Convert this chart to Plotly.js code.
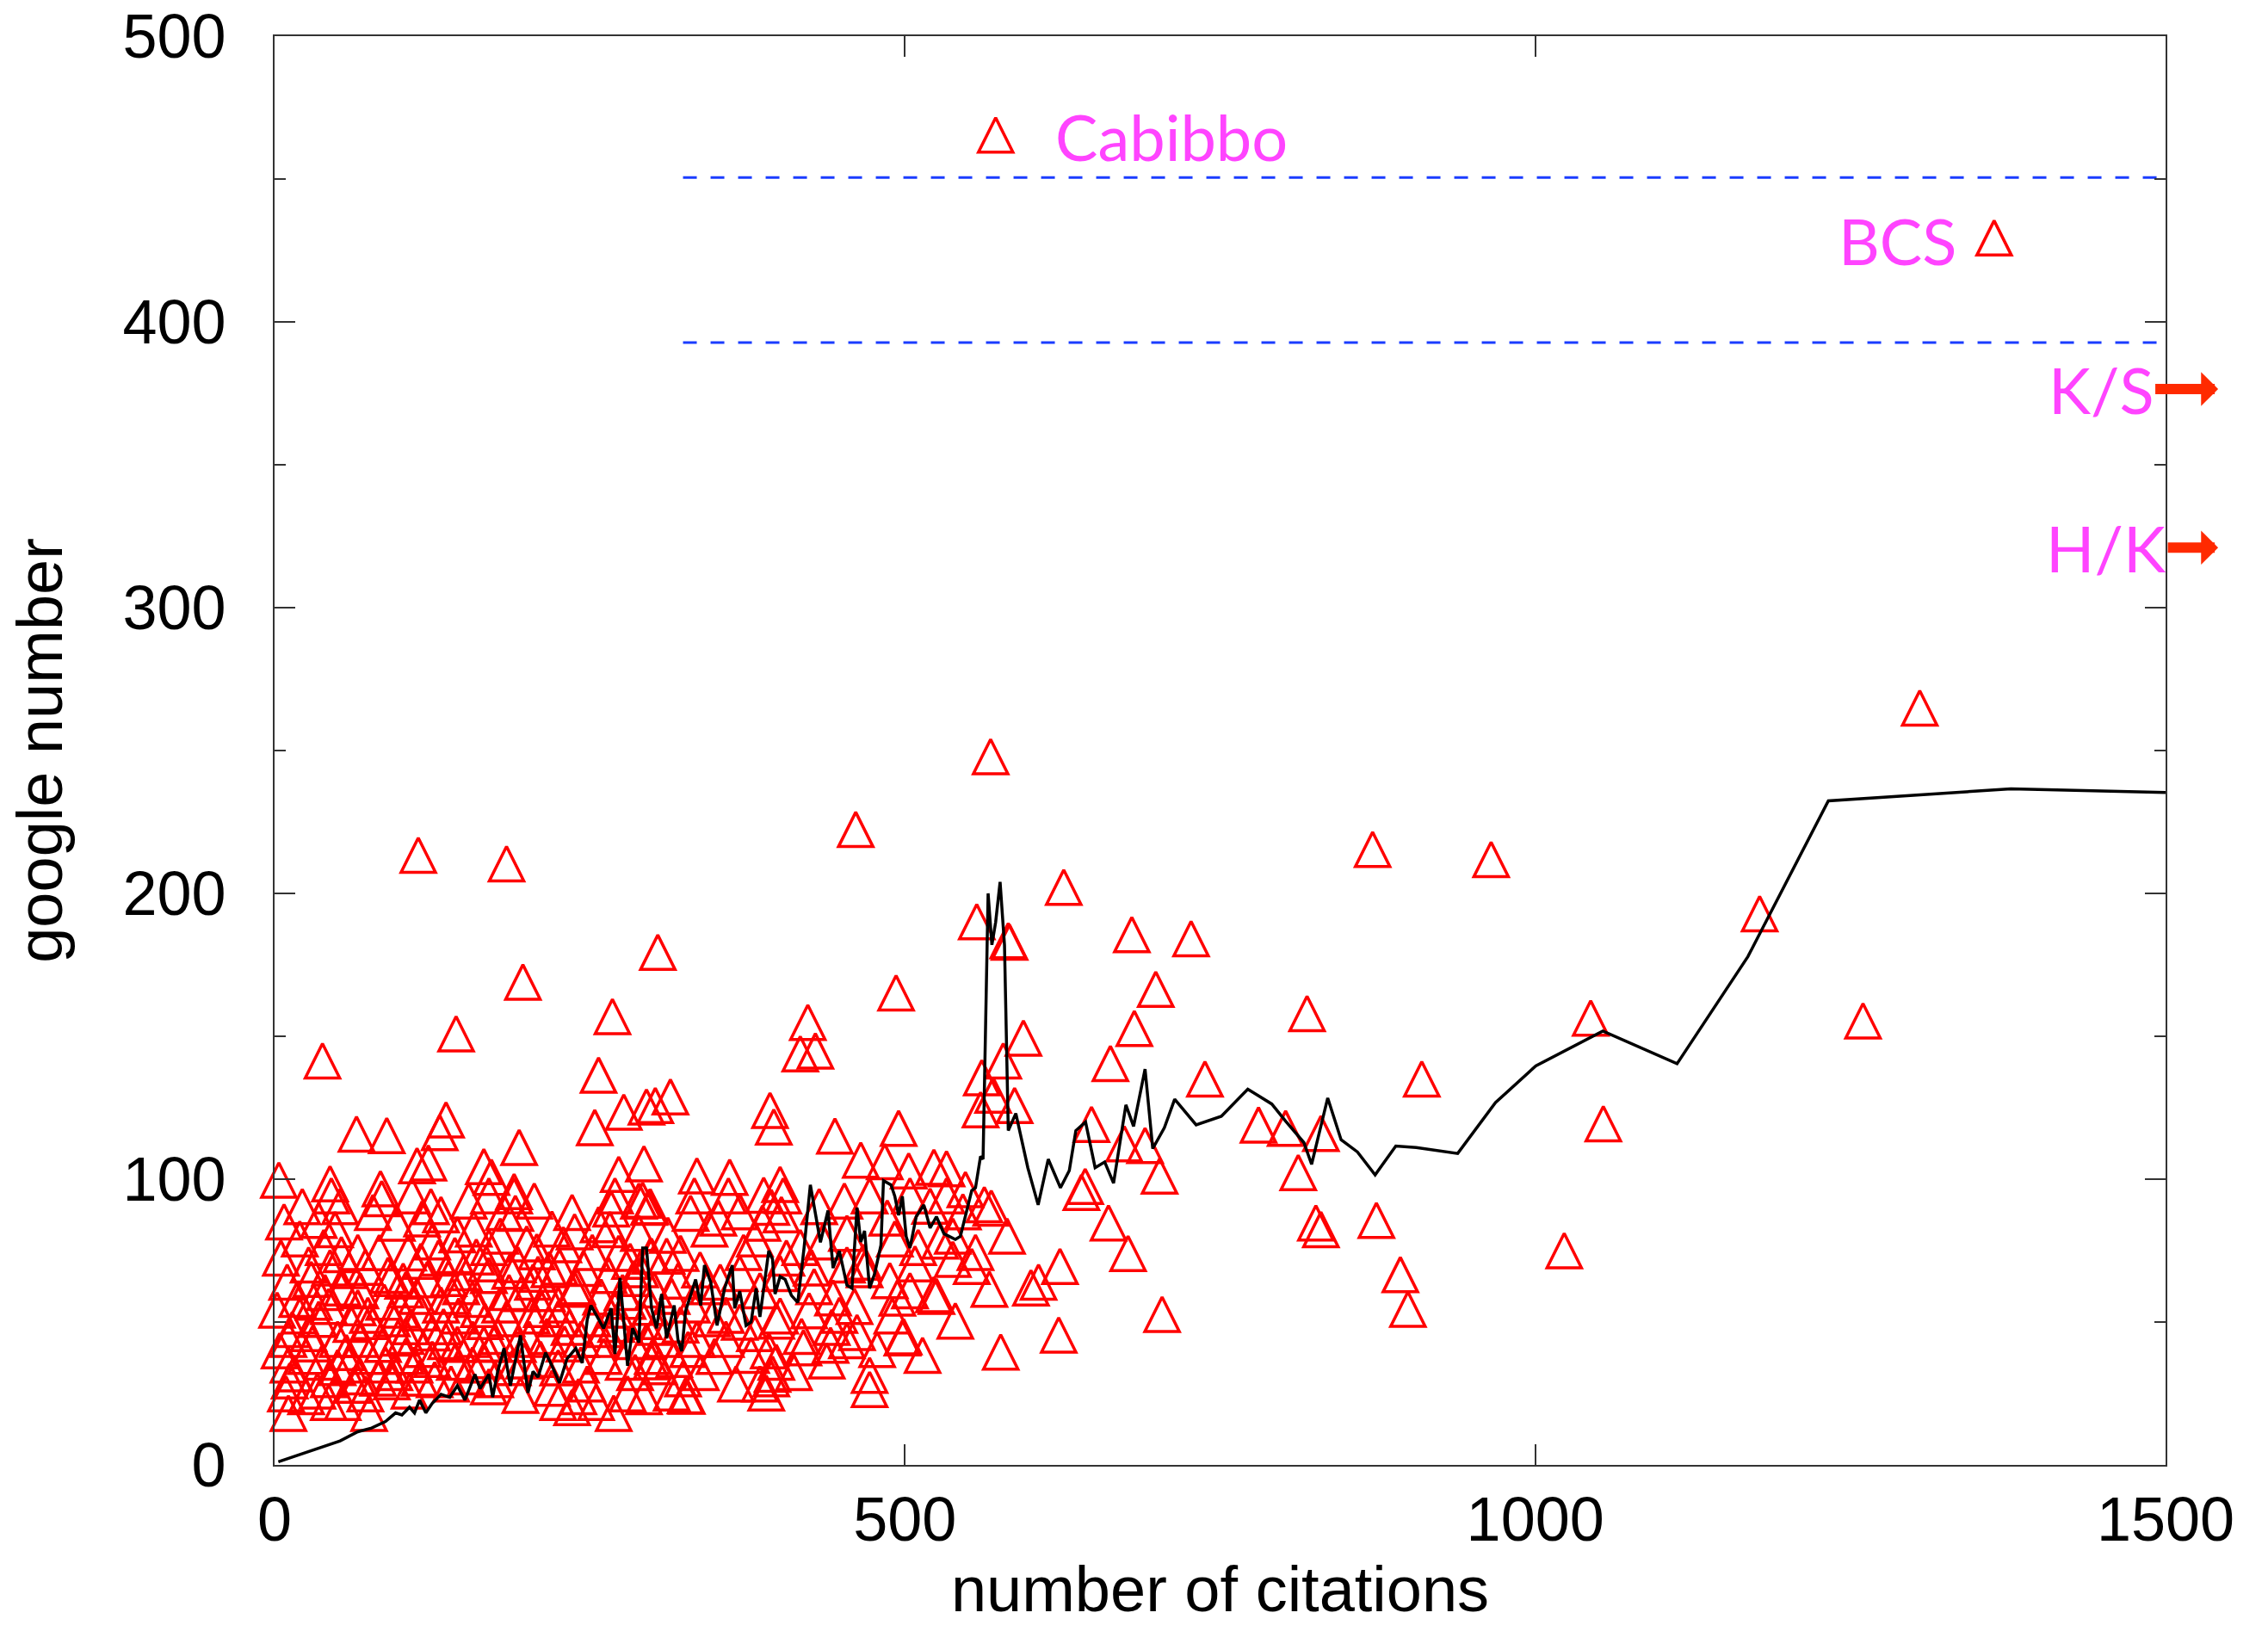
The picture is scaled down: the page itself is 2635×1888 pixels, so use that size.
<!DOCTYPE html>
<html>
<head>
<meta charset="utf-8">
<script src="https://cdn.plot.ly/plotly-3.0.1.min.js"></script>
<style>html,body{margin:0;padding:0;background:#fff;}#chart{width:2635px;height:1888px;}</style>
</head>
<body>
<div id="chart"></div>
<script>
// Papers: number of citations vs google number
const citations = [
45,85,109,170,190,270,292,
7.5,35,97,117,132,191,267,257,158,220,238,
39,53,72,106,179,208,160,209,145,299,289,
29,10,54,68,121,138,150,170,187,205,226,245,265,285,
43,104,87,132,157,196,216,238,259,280,298,
2,20,35,61,76,93,116,146,167,184,204,225,234,252,271,293,
11,50,86,125,136,157,177,193,243,284,
4,25,38,59,75,104,111,143,166,211,225,261,300,
15.5,43,68,93,127,152,175,
9,34,72,54,220,241,280,255,236,11,269,
20,27,44,59,83,93,116,125,143,170,193,229,273,282,
18,31,66,100,113,141,179,225,270,
27,68,104,145,166,202,216,257,295,
11,50,88,125,157,189,243,277,
63,25,43,107,225,293,75,
115,170,195,326,390,395,441,
197,268,144,38,257,304,65,89,136,131,277,295,302,254,194,113,122,166,172,190,273,293,3.4,44,84,289,
114,184,
314,393,396,335,361,401,423,429,417,444.5,495,465,484,503,523,533,557,583,594,578,561,560,587,493,
461,568,572,1364,
333,360,403.5,472,504,533,297,330,369,402,563,546,520,394,
345,387,381,454,435,417,492,510.5,538,581,322,337.5,311,298,
538,553,488,443,426,401,369,353.5,385,467,454,567,600,525,504,301,315,331,
460,424,401,369,347,322,303,490,442,498,454,418,381,358,335,308,
576,392,419.5,349,317,299,398,472,472,394,385,324,327,315,
626,871,965,582,680,727,699,819,682,663,738,910,570,648,780.5,802,830,674,690.5,702,812,643,640,568.5,874,826,830,661.5,677,623,606,893,899,1023,704,622,
499,523,
1044,1054,1178,1260,1305,
5,14,22,30,40,48,57,66,74,82,90,98,12,52,78,95,
102,108,118,124,130,134,140,148,154,162,168,174,182,186,198,200,
206,212,218,230,236,240,248,252,262,266,276,286,290,298,305,312,320,328,
338,344,352,358,366,372,378,388,398,406,412,428,432,438,448,452,462,468,478,486,494,508,514,528,540,548,556
];
const googleNumber = [
91.8,90.8,91.8,91.8,91.8,91.8,90.3,
82.7,83.2,82.2,83.7,85.2,85.7,87.2,81.7,80.2,80.2,79.2,
73.7,71.2,66.8,71.8,77.7,72.2,70.4,64.4,78.2,70.7,78.7,
62.6,61.6,59.6,58.6,62.4,62.9,64.9,63.9,65.4,61.6,66.9,66.4,63.9,62.9,
53.1,58.9,54.6,53.6,55.6,57.6,57.6,59.1,56.4,54.9,52.8,
51.8,49.8,48.6,46.8,47.8,48.8,50.8,49.8,47.8,48.8,49.8,48.8,45.8,48.8,46.8,47.8,
41.6,41.6,39.8,43.8,40.8,41.6,42.6,39.8,41.6,40.8,
37.6,35.6,33.6,32.6,35.6,35.6,32.6,33.6,34.1,34.6,31.6,35.6,35.6,
29.5,27.5,28.5,26.7,27.5,28.5,27.5,
22.5,23.5,22.5,19.5,24.5,21.5,22.5,19.5,17.7,15.7,15.7,
76.7,67.6,66.6,65.7,71.9,62.9,68.9,75.7,70.9,73.7,67.7,74.7,71.7,68.9,
55.6,54.6,52.6,51.8,56.6,56.6,53.6,53.6,51.8,
43.6,41.6,42.6,39.8,39.8,41.6,42.6,41.6,40.8,
32.6,31.7,32.6,34.6,32.6,31.7,32.6,33.6,
25.5,21.5,19.5,23.5,19.5,21.5,15.7,
28,25,22,21.8,22.8,29.4,39.5,
166.6,154.5,148.5,139,134,177,113.4,112.9,118.4,113.9,121.1,122.9,123.4,115.7,108.7,102.3,103.3,102,98.3,93.3,99.3,103,97.3,96,94.3,90,
211,208,
126.4,121.7,115.9,98.8,98.3,95.8,152.5,142.5,141.5,112.7,115.4,104.3,103.8,100.5,101.8,101.3,187.7,180.6,147,139,133.1,121.9,123.4,162.8,
220,245.5,463,427,
91.8,91.8,91.8,91.8,91.8,91.8,87.8,85.7,86.2,85.2,88.7,86.2,88.2,87.8,
80.2,82.2,76.7,78.7,75.7,73.7,76.7,73.7,77.7,77.7,71.7,65.9,70.7,70.7,
69.6,67.1,62.1,56.1,66.6,64.6,64.6,61.6,58.6,68.6,67.6,59.1,59.6,56.6,58.6,58.9,56.6,53.6,
53.1,51.6,49.8,47.6,48.8,46.6,45.8,49.8,45.8,42.1,41.1,42.6,43.6,41.6,41.6,41.6,
37.1,37.6,38.6,35.6,34.6,33.7,33.6,29,24,27.8,26,27.8,21.7,22.8,
199.8,213,209.5,181.1,183.2,181.8,164.1,155.6,150.4,138.1,132.7,132.7,127,116.8,116.6,115.4,113.6,110,109.4,98.7,99.9,95.1,93,87.5,83.2,82.3,80,82.3,71.6,67.1,61.6,64.2,52.1,72.6,50.3,43.1,
42.5,57.2,
154,117,190.5,153,262.5,
70,45,88,40,58,80,37,72,50,28,64,42,27,88,86,30,
62,46,38,88,70,46,26,60,90,52,68,40,86,58,34,75,
90,52,66,40,86,60,26,72,45,80,58,30,66,88,32,78,62,38,
30,60,84,50,26,72,36,92,48,70,30,60,88,34,50,90,44,66,38,84,56,68,36,76,48,94,72
];

// Running average of the google number (black curve)
const avgCitations = [3,20,38,52,66,77,88,96,101,107,111,115,120,125,132,139,145,151,159,163,170,173,177,182,187,195,201,205,209,215,220,226,232,239,244,248,251,256,261,267,270,274,280,284,289,292,295,299,303,307,311,317,320,323,326,334,338,341,346,351,357,363,365,369,374,378,382,385,392,395,397,401,405,410,415,420,425,429,433,439,443,448,454,458,462,465,468,472,476,481,483,489,492,495,498,501,504,509,515,520,525,531,536,540,544,548,553,556,560,562,564,566,569,572,575.5,579,582,588,597.5,605.7,613.7,623.4,630.4,635.6,643.3,650.9,658.5,665.5,675.3,681.4,690.5,696.6,705.8,714,731,751,772,791,802,816.5,822.6,835.4,846,859,873,889.4,905.6,938.5,968.5,1000.4,1053.6,1112.5,1168.7,1232.5,1377.3,1500];
const avgGoogle = [1.1,3.6,6.1,8.4,11.6,12.9,15.2,18.2,17.5,20.2,18.2,22.7,18.2,21.5,24.7,23.7,27.7,22.7,31.7,26.7,31.7,23.7,32.7,40.8,27.7,45.3,25.2,32.7,30.7,39.3,34.7,28.7,37.2,40.8,35.7,50.8,55.8,51.8,47.8,54.8,38.8,65.4,34.7,47.8,42.8,75.9,75.9,54.8,47.8,59.8,44.3,55.8,43.8,39.8,53.8,64.9,55.8,69.9,63.9,48.8,61.8,69.9,54.8,60.8,48.8,50,61.8,51.8,74.9,72,59.8,65.9,64.9,59.3,56.8,75.9,98,88,77.9,89,68.9,74.9,62.9,61.8,90,78,81.9,61.8,66.9,76.9,99.5,98,94,87.4,94,79.9,75.9,86.9,91,82.9,86.9,80.9,79.9,78.9,80,86.9,96,97,108,107,151,200,182,190,204,182,117,123,104,91,107,97,103,117,120,104,106,98.6,126,118.5,138.5,110.7,118,128,119,122,131.5,126.3,120.3,112.8,105.2,128.4,113.8,109.5,101.5,111.6,111.1,109,126.8,139.6,151.8,140.4,177.9,232.4,236.6,235.3];

// Dashed reference band
const bandX = [324, 1493];
const bandUpper = [450.5, 450.5];
const bandLower = [392.8, 392.8];

// Tick values
const xTicks = [0, 500, 1000, 1500];
const yTicks = [0, 100, 200, 300, 400, 500];
const yMinorTicks = [50, 150, 250, 350, 450];

const labelColor = '#ff44ff';
const labelFont = {family: 'Gill Sans, Lato, Open Sans, sans-serif', size: 74, color: labelColor};
const tickFont = {family: 'Liberation Sans, Arial, sans-serif', size: 72, color: '#000'};
const titleFont = {family: 'Liberation Sans, Arial, sans-serif', size: 74, color: '#000'};

const traces = [
  {x: bandX, y: bandUpper, mode: 'lines', line: {color: '#1a3cff', width: 3, dash: '16px,16px'}, hoverinfo: 'skip'},
  {x: bandX, y: bandLower, mode: 'lines', line: {color: '#1a3cff', width: 3, dash: '16px,16px'}, hoverinfo: 'skip'},
  {x: citations, y: googleNumber, mode: 'markers', cliponaxis: false,
   marker: {symbol: 'arrow-down-open', angle: 180, size: 40, standoff: 28, color: '#ff0000', line: {width: 3.5, color: '#ff0000'}}},
  {x: avgCitations, y: avgGoogle, mode: 'lines', line: {color: '#000', width: 3.5}}
];

const layout = {
  width: 2635, height: 1888,
  margin: {l: 319, r: 119, t: 42, b: 186},
  paper_bgcolor: '#fff', plot_bgcolor: '#fff',
  showlegend: false,
  xaxis: {
    range: [0, 1500], tickvals: xTicks, ticktext: xTicks.map(String),
    ticks: 'inside', ticklen: 24, tickwidth: 2, tickcolor: '#333',
    showline: true, linecolor: '#333', linewidth: 2, mirror: 'ticks',
    showgrid: false, zeroline: false, tickfont: tickFont, ticklabelstandoff: 0,
    title: {text: 'number of citations', font: titleFont, standoff: 48}
  },
  yaxis: {
    range: [0, 500], tickvals: yTicks, ticktext: yTicks.map(String),
    ticks: 'inside', ticklen: 24, tickwidth: 2, tickcolor: '#333',
    minor: {tickvals: yMinorTicks, ticks: 'inside', ticklen: 13, tickwidth: 2, tickcolor: '#333'},
    showline: true, linecolor: '#333', linewidth: 2, mirror: 'ticks',
    showgrid: false, zeroline: false, tickfont: tickFont, ticklabelstandoff: 40,
    title: {text: 'google number', font: titleFont, standoff: 46}
  },
  annotations: [
    {x: 711.5, y: 465, xref: 'x', yref: 'y', text: 'Cabibbo', showarrow: false, font: labelFont},
    {x: 1287, y: 428.6, xref: 'x', yref: 'y', text: 'BCS', showarrow: false, font: labelFont},
    {x: 1.0278, y: 376.5, xref: 'paper', yref: 'y', text: 'K/S', font: labelFont,
     showarrow: true, ax: -136, ay: 0, axref: 'pixel', ayref: 'pixel',
     arrowhead: 1, arrowsize: 0.55, arrowwidth: 12, arrowcolor: '#ff2a00'},
    {x: 1.0278, y: 321, xref: 'paper', yref: 'y', text: 'H/K', font: labelFont,
     showarrow: true, ax: -130, ay: 0, axref: 'pixel', ayref: 'pixel',
     arrowhead: 1, arrowsize: 0.55, arrowwidth: 12, arrowcolor: '#ff2a00'}
  ]
};

Plotly.newPlot('chart', traces, layout, {staticPlot: true});
</script>
</body>
</html>
